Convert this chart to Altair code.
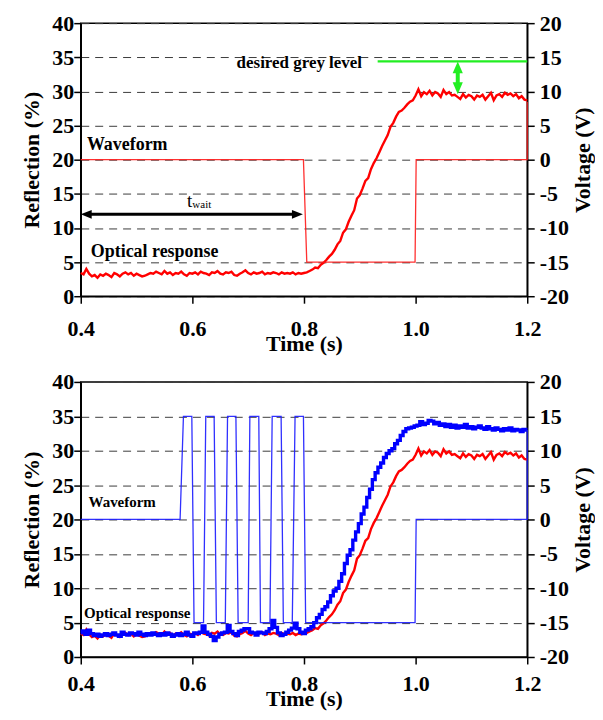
import altair as alt
import pandas as pd

FONT = "Liberation Serif"

# ---------------- data ----------------
STEP = 0.005
T_START = 0.4

# optical response, red (reflection %, every 5 ms from 0.400 s to 1.200 s)
red_reflection = [
    3.4, 3.2, 4.0, 3.3, 2.9, 3.1, 2.7, 3.2, 3.0, 3.3,
    3.1, 2.8, 3.4, 3.2, 2.9, 3.3, 3.5, 3.2, 3.4, 3.0,
    3.3, 3.1, 2.9, 3.0, 3.2, 3.4, 3.3, 3.6, 3.4, 3.2,
    3.7, 3.3, 3.5, 3.1, 3.4, 3.3, 3.6, 3.2, 3.0, 3.4,
    3.3, 3.5, 3.2, 3.6, 3.4, 3.3, 3.1, 3.5, 3.4, 3.7,
    3.3, 3.2, 3.5, 3.4, 3.6, 3.1, 3.0, 3.3, 3.5, 3.8,
    3.4, 3.2, 3.5, 3.3, 3.4, 3.6, 3.2, 3.4, 3.3, 3.5,
    3.4, 3.2, 3.5, 3.3, 3.4, 3.3, 3.5, 3.2, 3.4, 3.3,
    3.4, 3.5, 3.7, 3.9, 4.2, 4.1, 4.6, 4.9, 5.3, 5.8,
    6.2, 6.8, 7.6, 8.1, 9.3, 9.8, 10.9, 11.8, 12.6, 14.3,
    14.8, 15.8, 16.9, 17.3, 18.6, 19.5, 20.2, 21.1, 22.0, 22.8,
    23.6, 24.8, 25.4, 26.3, 27.0, 27.2, 27.6, 28.1, 28.5, 28.7,
    29.4, 30.3, 29.3, 29.9, 29.6, 30.1, 29.4, 29.9, 29.7, 29.2,
    30.2, 29.6, 29.9, 29.4, 29.5, 29.2, 28.9, 29.6, 29.1, 29.5,
    29.3, 28.8, 29.4, 29.2, 29.5, 28.8, 29.3, 29.8, 28.7, 29.4,
    29.6, 29.2, 29.8, 29.5, 29.7, 29.3, 29.6, 29.0, 29.3, 28.8,
    28.7,
]

# optical response, blue (bottom panel)
blue_reflection = [
    3.5, 3.8, 3.3, 3.9, 3.4, 3.1, 3.3, 3.0, 3.2, 3.4,
    3.1, 3.3, 3.5, 3.2, 3.0, 3.6, 3.3, 3.2, 3.5, 3.4,
    3.2, 3.6, 3.3, 3.1, 3.4, 3.2, 3.5, 3.3, 3.1, 3.4,
    3.2, 3.5, 3.3, 3.0, 3.2, 3.4, 3.1, 3.3, 3.6, 3.2,
    3.0, 3.5, 3.4, 3.6, 4.5, 3.6, 3.3, 3.0, 2.4, 2.9,
    3.3, 3.5, 3.6, 4.6, 3.7, 3.4, 3.1, 3.7, 3.9, 4.1,
    4.1, 3.6, 3.5, 3.2, 3.6, 3.5, 3.4, 3.7, 4.1, 5.3,
    4.3, 3.5, 3.1, 3.3, 3.6, 3.9, 4.2, 4.9, 4.1, 3.6,
    3.4, 3.9, 4.1, 4.4, 5.0, 5.7, 6.2, 6.9, 7.3, 8.0,
    8.9, 9.6, 10.0, 11.0, 12.1, 13.6, 14.8, 15.6, 17.0, 18.2,
    19.4, 20.8, 21.8, 23.2, 24.4, 25.8, 26.8, 27.6, 28.2, 29.0,
    29.6, 30.0, 30.3, 31.0, 31.5, 32.2, 32.8, 33.2, 33.3, 33.4,
    33.6, 33.7, 34.2, 33.8, 34.0, 34.4, 34.3, 33.9, 34.1, 33.7,
    33.9, 33.5, 33.8, 33.4, 33.7, 33.3, 33.6, 33.4, 33.8, 33.3,
    33.5, 33.2, 33.4, 33.6, 33.3, 33.1, 33.5, 33.2, 33.0, 33.3,
    33.1, 32.9, 33.2, 33.0, 33.3, 32.9, 33.1, 33.0, 32.8, 33.1,
    33.0,
]

# drive waveforms (voltage, right axis)
wave_top_time = [0.4, 0.799, 0.805, 0.999, 1.001, 1.2, 1.2]
wave_top_volt = [0, 0, -15, -15, 0, 0, 8.5]

wave_bot_time = [0.4, 0.578, 0.584, 0.599, 0.603, 0.620, 0.624, 0.639, 0.643,
                 0.659, 0.663, 0.678, 0.682, 0.700, 0.703, 0.719, 0.722, 0.739,
                 0.743, 0.759, 0.763, 0.779, 0.784, 0.799, 0.803, 0.999, 1.001,
                 1.2, 1.2]
wave_bot_volt = [0, 0, 15, 15, -15, -15, 15, 15, -15,
                 -15, 15, 15, -15, -15, 15, 15, -15, -15,
                 15, 15, -15, -15, 15, 15, -15, -15, 0,
                 0, 13]

# annotations (time s, reflection %)
top_label_text = ["Waveform", "Optical response"]
top_label_time = [0.411, 0.418]
top_label_refl = [22.2, 6.5]

bot_label_text = ["Waveform", "Optical response"]
bot_label_time = [0.414, 0.406]
bot_label_refl = [22.5, 6.4]

grey_text = ["desired grey level"]
grey_text_time = [0.904]
grey_text_refl = [34.2]

twait_time = [0.600]
twait_refl_t = [14.0]
twait_refl_sub = [13.3]

wait_arrow_tips = [0.400, 0.798]      # left / right tips
wait_arrow_shaft = [0.412, 0.786]
wait_arrow_refl = 12.0

green_line_time = [0.932, 1.2]
green_line_refl = 34.4
green_arrow_time = 1.0755
green_arrow_tips = [34.4, 29.6]       # top / bottom tips
green_arrow_shaft = [33.2, 30.8]

LEFT_TICKS = list(range(0, 41, 5))
RIGHT_TICKS = list(range(-20, 21, 5))
X_TICKS = [0.4, 0.6, 0.8, 1.0, 1.2]

# ---------------- tables ----------------
def series_df(values):
    return pd.DataFrame({
        "t": [round(T_START + STEP * i, 3) for i in range(len(values))],
        "r": values,
    })

red_df = series_df(red_reflection)
blue_df = series_df(blue_reflection)

# ---------------- encodings ----------------
XS = alt.Scale(domain=[0.4, 1.2], nice=False, zero=False)


def make_x_axis(label_pad, title_pad):
    return alt.Axis(
        values=X_TICKS, format=".1f", labelFlush=False,
        labelFont=FONT, labelFontSize=22, labelFontWeight="bold", labelColor="black",
        titleFont=FONT, titleFontSize=22, titleFontWeight="bold", titleColor="black",
        tickSize=7, tickColor="black", tickWidth=1.5,
        domainColor="black", domainWidth=1.5, labelPadding=label_pad, titlePadding=title_pad,
        grid=False,
    )


X_AXIS_TOP = make_x_axis(15, -6)
X_AXIS_BOT = make_x_axis(10, -6)

yl_axis = alt.Axis(
    values=LEFT_TICKS, labelExpr="datum.value + ''",
    labelFont=FONT, labelFontSize=22, labelFontWeight="bold", labelColor="black",
    titleFont=FONT, titleFontSize=22, titleFontWeight="bold", titleColor="black",
    tickSize=7, tickColor="black", tickWidth=1.5,
    domainColor="black", domainWidth=1.5, labelPadding=0, titlePadding=8,
    grid=True, gridDash=[8, 6], gridColor="#3c3c3c", gridWidth=1,
)
yr_axis = alt.Axis(
    values=RIGHT_TICKS, labelExpr="datum.value + ''", orient="right",
    labelFont=FONT, labelFontSize=22, labelFontWeight="bold", labelColor="black",
    titleFont=FONT, titleFontSize=22, titleFontWeight="bold", titleColor="black",
    titleAngle=270, titleBaseline="top",
    tickSize=7, tickColor="black", tickWidth=1.5,
    domainColor="black", domainWidth=1.5, labelPadding=5, titlePadding=4,
    grid=False,
)


def YL(field="r", axis=False, title="Reflection (%)"):
    return alt.Y(f"{field}:Q", scale=alt.Scale(domain=[0, 40], nice=False, zero=False),
                 axis=yl_axis if axis else None, title=title)


def YR(field="v"):
    return alt.Y(f"{field}:Q", scale=alt.Scale(domain=[-20, 20], nice=False, zero=False),
                 axis=yr_axis, title="Voltage (V)")


LEFT_HEAD = "M0,0L2,-0.8L2,0.8Z"
RIGHT_HEAD = "M0,0L-2,-0.8L-2,0.8Z"
UP_HEAD = "M0,0L-0.85,2L0.85,2Z"
DOWN_HEAD = "M0,0L-0.85,-2L0.85,-2Z"


def build_panel(x_axis):
    def X(field="t"):
        return alt.X(f"{field}:Q", scale=XS, axis=x_axis, title="Time (s)")

    def optical(df, color, width, axis=False, interp="linear"):
        return alt.Chart(df).mark_line(color=color, strokeWidth=width, strokeJoin="miter",
                                       interpolate=interp).encode(
            x=X(), y=YL("r", axis=axis))

    def waveform(times, volts, color):
        df = pd.DataFrame({"t": times, "v": volts, "i": list(range(len(times)))})
        return alt.Chart(df).mark_line(color=color, strokeWidth=1.3, opacity=0.9).encode(
            x=X(), y=YR("v"), order="i:Q")

    def labels(texts, times, refls, size, weight="bold", align="left"):
        df = pd.DataFrame({"label": texts, "t": times, "r": refls})
        return alt.Chart(df).mark_text(
            align=align, baseline="middle", font=FONT, fontSize=size,
            fontWeight=weight, color="black").encode(x=X(), y=YL("r"), text="label:N")

    def head(t, r, shape, color, size):
        return alt.Chart(pd.DataFrame({"t": [t], "r": [r]})).mark_point(
            shape=shape, filled=True, color=color, size=size, opacity=1, strokeWidth=0
        ).encode(x=X(), y=YL("r"))

    def hrule(t1, t2, r, color, width):
        return alt.Chart(pd.DataFrame({"t": [t1], "t2": [t2], "r": [r]})).mark_rule(
            color=color, strokeWidth=width).encode(x=X(), x2=alt.X2("t2:Q"), y=YL("r"))

    def vrule(t, r1, r2, color, width):
        return alt.Chart(pd.DataFrame({"t": [t], "r": [r1], "r2": [r2]})).mark_rule(
            color=color, strokeWidth=width).encode(x=X(), y=YL("r"), y2=alt.Y2("r2:Q"))

    return optical, waveform, labels, head, hrule, vrule


# ---------------- top panel ----------------
optical, waveform, labels, head, hrule, vrule = build_panel(X_AXIS_TOP)
top = alt.layer(
    optical(red_df, "#ff0000", 2.4, axis=True),
    labels(top_label_text, top_label_time, top_label_refl, 18),
    labels(grey_text, grey_text_time, grey_text_refl, 17, align="right"),
    labels(["t"], twait_time, twait_refl_t, 19, weight="normal", align="right"),
    labels(["wait"], twait_time, twait_refl_sub, 11, weight="normal", align="left"),
    hrule(wait_arrow_shaft[0], wait_arrow_shaft[1], wait_arrow_refl, "black", 3),
    head(wait_arrow_tips[0], wait_arrow_refl, LEFT_HEAD, "black", 121),
    head(wait_arrow_tips[1], wait_arrow_refl, RIGHT_HEAD, "black", 121),
    hrule(green_line_time[0], green_line_time[1], green_line_refl, "#22ee22", 2.2),
    vrule(green_arrow_time, green_arrow_shaft[0], green_arrow_shaft[1], "#22ee22", 4),
    head(green_arrow_time, green_arrow_tips[0], UP_HEAD, "#22ee22", 144),
    head(green_arrow_time, green_arrow_tips[1], DOWN_HEAD, "#22ee22", 144),
    waveform(wave_top_time, wave_top_volt, "#ff1a1a"),
).resolve_scale(y="independent").properties(width=448, height=274)

# ---------------- bottom panel ----------------
optical, waveform, labels, head, hrule, vrule = build_panel(X_AXIS_BOT)
bottom = alt.layer(
    optical(red_df, "#ff0000", 2.4, axis=True),
    optical(blue_df, "#0000ff", 3.4, interp="step"),
    labels(bot_label_text, bot_label_time, bot_label_refl, 15),
    waveform(wave_bot_time, wave_bot_volt, "#1a1aff"),
).resolve_scale(y="independent").properties(width=448, height=276)

chart = alt.vconcat(top, bottom, spacing=15).properties(
    padding={"left": 12, "top": 2, "right": 0, "bottom": 0},
    background="white",
).configure_view(stroke="black", strokeWidth=1.5)

chart.save("out.html", embed_options={"renderer": "svg", "actions": False})
